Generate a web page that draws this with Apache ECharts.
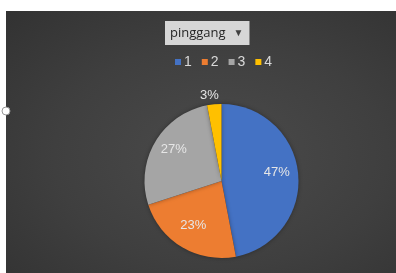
<!DOCTYPE html>
<html>
<head>
<meta charset="UTF-8">
<script src="https://cdn.jsdelivr.net/npm/echarts@6/dist/echarts.min.js"></script>
<style>
    html, body { margin: 0; padding: 0; background: #fff; }
    #bg {
        position: absolute; left: 6px; top: 11px; width: 390px; height: 262px;
        background: radial-gradient(ellipse at 55% 55%, #4b4b4b 0%, #3f3f3f 55%, #323232 100%);
    }
    #chart { position: absolute; left: 0; top: 0; width: 396px; height: 273px; }
</style>
</head>
<body>
<div id="bg"></div>
<div id="chart"></div>
<script>
    // 数据
    const names = ['1', '2', '3', '4'];
    const values = [47, 23, 27, 3];
    const colors = ['#4472c4', '#ed7d31', '#a5a5a5', '#ffc000'];

    const chart = echarts.init(document.getElementById('chart'));

    const pieData = names.map((n, i) => ({
        name: n,
        value: values[i],
        itemStyle: { color: colors[i] }
    }));

    // 小扇区标签放外面
    const labelData = names.map((n, i) => {
        const d = { name: n, value: values[i] };
        if (values[i] < 5) {
            d.label = { position: 'outside' };
            d.labelLine = { show: false, length: 6, length2: 0 };
        }
        return d;
    });

    const labelFont = {
        color: '#e6e6e6',
        fontSize: 13,
        fontFamily: 'Liberation Sans'
    };

    chart.setOption({
        animation: false,
        title: {
            text: '{a|pinggang} {b|▼}',
            left: 165,
            top: 21,
            padding: [3, 6, 3, 5],
            backgroundColor: '#d6d6d6',
            textStyle: {
                fontWeight: 'normal',
                rich: {
                    a: { fontSize: 13, color: '#262626', fontFamily: 'Open Sans', fontWeight: 'normal', lineHeight: 15 },
                    b: { fontSize: 10, color: '#404040', padding: [0, 0, 0, 3] }
                }
            }
        },
        legend: {
            data: names,
            left: 170,
            top: 50,
            icon: 'rect',
            itemWidth: 6,
            itemHeight: 6,
            itemGap: 10,
            textStyle: { color: '#d9d9d9', fontSize: 14, fontFamily: 'Liberation Sans', padding: [0, 0, 0, -2] }
        },
        graphic: [{
            type: 'circle',
            shape: { cx: 6, cy: 111, r: 4 },
            style: { fill: '#fff', stroke: '#999', lineWidth: 1 },
            z: 10
        }],
        series: [{
            name: 'pinggang',
            type: 'pie',
            center: [221.5, 181],
            radius: [0, 77],
            startAngle: 90,
            data: pieData,
            label: { show: false },
            labelLine: { show: false },
            itemStyle: { shadowBlur: 4, shadowColor: 'rgba(0,0,0,0.35)' },
            silent: true
        }, {
            // 只用来放标签
            name: 'labels',
            type: 'pie',
            center: [221.5, 181],
            radius: [28, 77],
            startAngle: 90,
            data: labelData,
            itemStyle: { color: 'rgba(0,0,0,0)' },
            label: Object.assign({ show: true, position: 'inside', formatter: '{c}%' }, labelFont),
            labelLine: { show: false },
            labelLayout: function (p) {
                return values[p.dataIndex] < 5 ? { dx: 10, dy: -3 } : { dy: -3 };
            },
            silent: true
        }]
    });
</script>
</body>
</html>
